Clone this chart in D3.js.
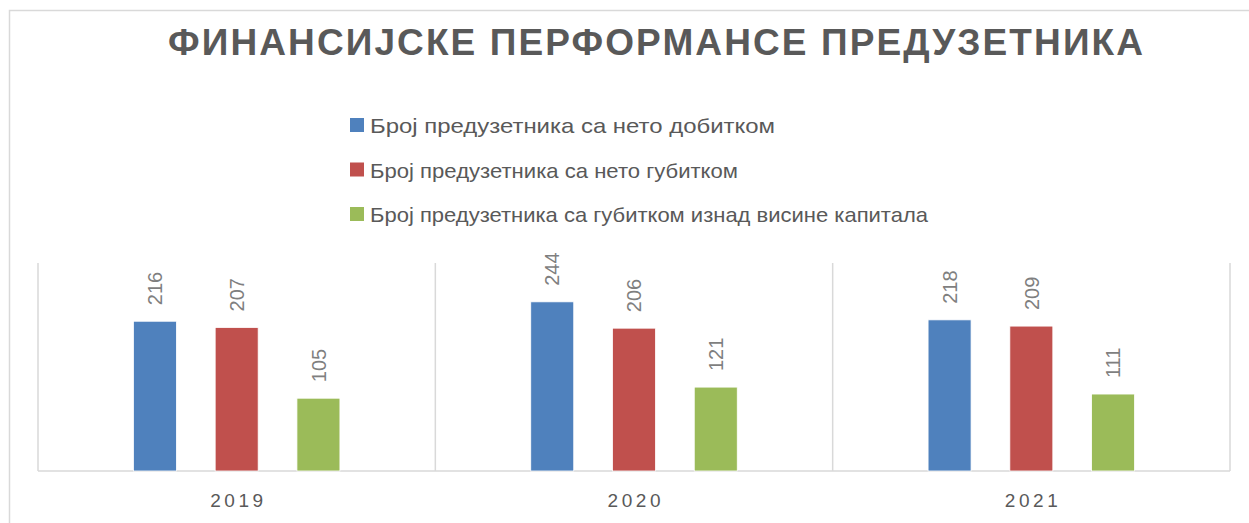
<!DOCTYPE html>
<html>
<head>
<meta charset="utf-8">
<script src="https://cdn.jsdelivr.net/npm/d3@7"></script>
<style>
  html, body { margin: 0; padding: 0; background: #fff; }
  svg { display: block; }
</style>
</head>
<body>
<svg id="chart" width="1249" height="523"></svg>
<script>
const title = "ФИНАНСИЈСКЕ ПЕРФОРМАНСЕ ПРЕДУЗЕТНИКА";
const categories = ["2019", "2020", "2021"];
const seriesNames = [
  "Број предузетника са нето добитком",
  "Број предузетника са нето губитком",
  "Број предузетника са губитком изнад висине капитала"
];
const profitValues = [216, 244, 218];
const lossValues = [207, 206, 209];
const lossAboveCapitalValues = [105, 121, 111];
const seriesColors = ["#4f81bd", "#c0504d", "#9bbb59"];

const seriesValues = [profitValues, lossValues, lossAboveCapitalValues];
const data = categories.map((c, i) => ({
  cat: c,
  vals: seriesValues.map((arr, s) => ({ s, v: arr[i] }))
}));

const svg = d3.select("#chart");
const font = "'Liberation Sans', Arial, sans-serif";

// chart border (extends beyond right/bottom edges)
svg.append("rect")
  .attr("x", 9.5).attr("y", 10.5)
  .attr("width", 1400).attr("height", 700)
  .attr("fill", "none").attr("stroke", "#d9d9d9").attr("stroke-width", 1.5);

// title
svg.append("text")
  .attr("x", 168).attr("y", 55)
  .attr("font-family", font).attr("font-weight", "bold")
  .attr("font-size", 37).attr("fill", "#595959")
  .attr("textLength", 975).attr("lengthAdjust", "spacing")
  .text(title);

// legend
const legendWidths = [405, 368, 558];
const legend = svg.append("g");
seriesNames.forEach((name, i) => {
  const cy = 125 + i * 44.5;
  legend.append("rect")
    .attr("x", 350).attr("y", cy - 7)
    .attr("width", 14).attr("height", 14)
    .attr("fill", seriesColors[i]);
  legend.append("text")
    .attr("x", 370).attr("y", cy + 8)
    .attr("font-family", font).attr("font-size", 21)
    .attr("fill", "#595959")
    .attr("textLength", legendWidths[i]).attr("lengthAdjust", "spacingAndGlyphs")
    .text(name);
});

// scales
const x = d3.scaleBand().domain(categories).range([38, 1230]).padding(0);
const xs = d3.scaleBand().domain(d3.range(seriesNames.length))
  .range([0, x.bandwidth()]).paddingInner(0.474).paddingOuter(1.167);
const y = d3.scaleLinear().domain([0, 300]).range([471, 263]);

// vertical gridlines at category boundaries
const bounds = categories.map(c => x(c)).concat([x(categories[categories.length - 1]) + x.bandwidth()]);
svg.append("g").selectAll("line").data(bounds).join("line")
  .attr("x1", d => d).attr("x2", d => d)
  .attr("y1", y(300)).attr("y2", y(0))
  .attr("stroke", "#d9d9d9").attr("stroke-width", 1.5);

// baseline
svg.append("line")
  .attr("x1", 38).attr("x2", 1230)
  .attr("y1", y(0)).attr("y2", y(0))
  .attr("stroke", "#d9d9d9").attr("stroke-width", 1.5);

// bars
const groups = svg.append("g").selectAll("g").data(data).join("g")
  .attr("transform", d => `translate(${x(d.cat)},0)`);

groups.selectAll("rect").data(d => d.vals).join("rect")
  .attr("x", d => xs(d.s))
  .attr("y", d => y(d.v))
  .attr("width", xs.bandwidth())
  .attr("height", d => y(0) - y(d.v))
  .attr("fill", d => seriesColors[d.s])
  .attr("stroke", "#ffffff").attr("stroke-width", 0.8);

// value labels (rotated)
groups.selectAll("text").data(d => d.vals).join("text")
  .attr("transform", d => `translate(${xs(d.s) + xs.bandwidth() / 2},${y(d.v) - 16}) rotate(-90)`)
  .attr("dy", "0.36em")
  .attr("text-anchor", "start")
  .attr("font-family", font).attr("font-size", 20)
  .attr("fill", "#7f7f7f")
  .text(d => d.v);

// x-axis labels
svg.append("g").selectAll("text").data(categories).join("text")
  .attr("x", d => x(d) + x.bandwidth() / 2 - 26.5)
  .attr("y", 507)
  .attr("font-family", font).attr("font-size", 19)
  .attr("fill", "#595959")
  .attr("textLength", 53).attr("lengthAdjust", "spacing")
  .text(d => d);
</script>
</body>
</html>
